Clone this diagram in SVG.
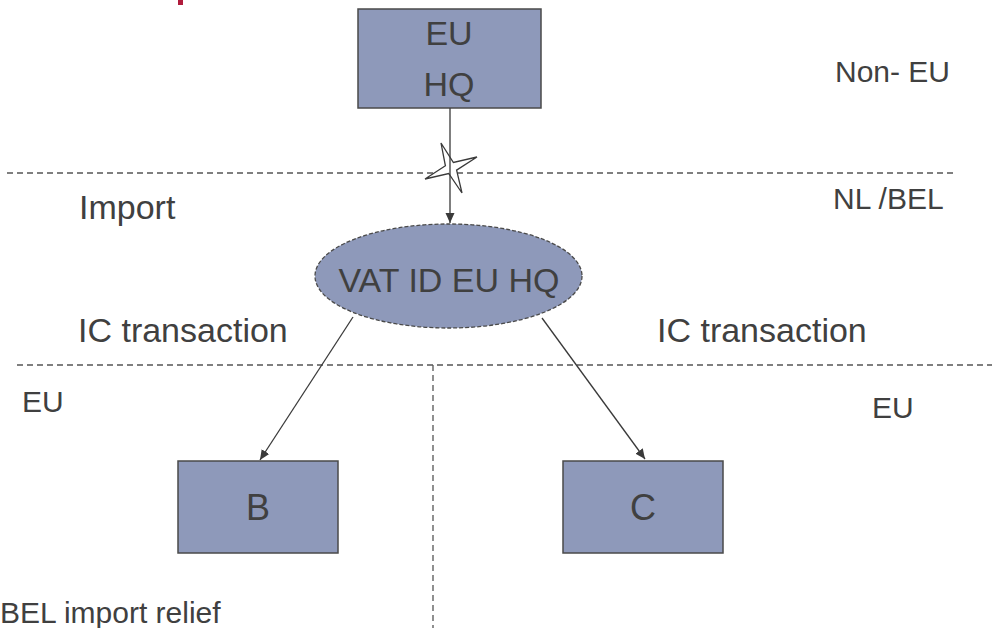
<svg xmlns="http://www.w3.org/2000/svg" width="992" height="628" viewBox="0 0 992 628">
<defs>
<style>
.t{font-family:"Liberation Sans",Arial,sans-serif;fill:#404040}
.lbl{font-size:30px}
.big{font-size:34px}
.node{fill:#8E99BA;stroke:#4a4a4a;stroke-width:1.5}
.div{stroke:#555;stroke-width:1.3;stroke-dasharray:6 4;fill:none}
.conn{stroke:#3a3a3a;stroke-width:1.3;fill:none;marker-end:url(#ah)}
</style>
<marker id="ah" viewBox="0 0 10 10" refX="10" refY="5" markerWidth="10" markerHeight="10" markerUnits="userSpaceOnUse" orient="auto">
<path d="M0,0.5 L10,5 L0,9.5 Z" fill="#3a3a3a"/>
</marker>
</defs>
<rect width="992" height="628" fill="#fff"/>
<rect x="178" y="0" width="5" height="5" fill="#B01C3C"/>
<g id="dividers">
<line class="div" x1="7" y1="173" x2="957" y2="173"/>
<line class="div" x1="17" y1="365" x2="992" y2="365"/>
<line class="div" x1="433" y1="365" x2="433" y2="628"/>
</g>
<g id="labels">
<text class="t lbl" x="835" y="82">Non- EU</text>
<text class="t lbl" x="833" y="209">NL /BEL</text>
<text class="t big" x="79" y="219">Import</text>
<text class="t big" x="78" y="342">IC transaction</text>
<text class="t big" x="657" y="342">IC transaction</text>
<text class="t lbl" x="22" y="412">EU</text>
<text class="t lbl" x="872" y="418">EU</text>
<text class="t lbl" x="0" y="623">BEL import relief</text>
</g>
<g id="node-euhq">
<rect class="node" x="358" y="9" width="183" height="99"/>
<text class="t big" x="449" y="45" text-anchor="middle">EU</text>
<text class="t big" x="449" y="96" text-anchor="middle">HQ</text>
</g>
<g id="star">
<polygon points="441,143 453.4,162.5 477,157 456.6,170.1 462,193 448.7,173.5 425,179 445.4,165.8" fill="#fff" stroke="#3a3a3a" stroke-width="1.3"/>
</g>
<g id="node-vat">
<ellipse cx="448.5" cy="276" rx="133.5" ry="52" fill="#8E99BA" stroke="#4a4a4a" stroke-width="1.3" stroke-dasharray="4 2"/>
<text class="t big" x="449" y="292" text-anchor="middle">VAT ID EU HQ</text>
</g>
<g id="node-b">
<rect class="node" x="178" y="461" width="160" height="92"/>
<text class="t" style="font-size:36px" x="258" y="520" text-anchor="middle">B</text>
</g>
<g id="node-c">
<rect class="node" x="563" y="461" width="160" height="92"/>
<text class="t" style="font-size:36px" x="643" y="520" text-anchor="middle">C</text>
</g>
<g id="connectors">
<line class="conn" x1="450" y1="108" x2="450" y2="223"/>
<line class="conn" x1="353" y1="317" x2="260" y2="460"/>
<line class="conn" x1="542" y1="318" x2="645" y2="459"/>
</g>
</svg>
